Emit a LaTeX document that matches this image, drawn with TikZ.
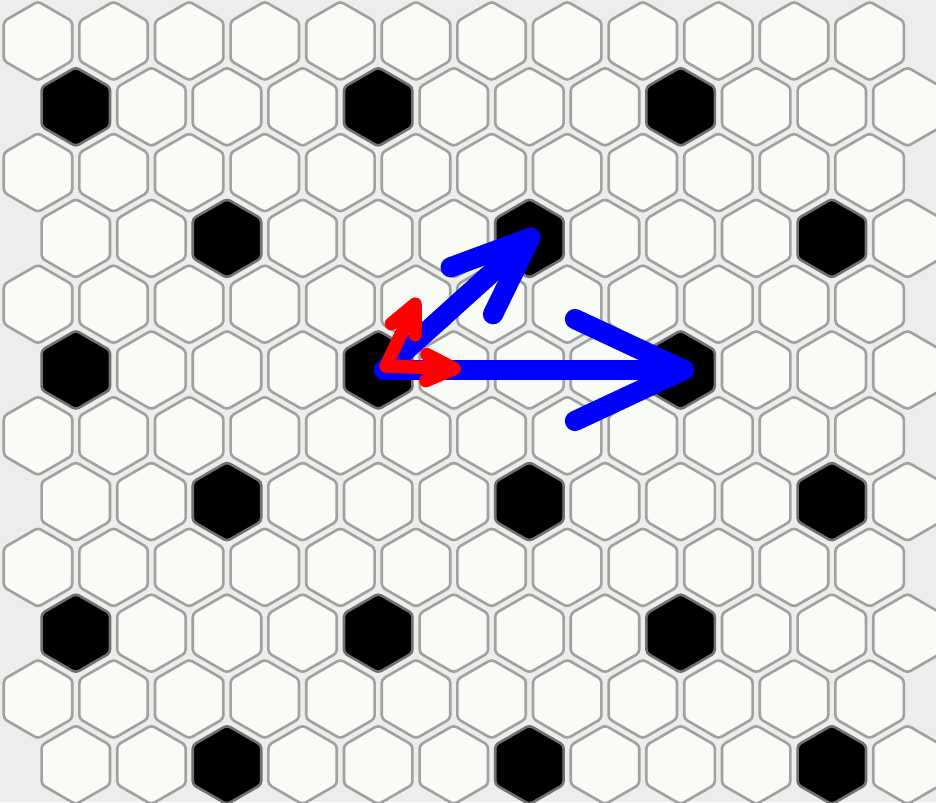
\documentclass[tikz,border=0pt]{standalone}
\usetikzlibrary{arrows.meta}
\definecolor{grout}{HTML}{ECEEEE}
\definecolor{tile}{HTML}{F9FBF6}
\definecolor{edge}{HTML}{A0A2A0}
\definecolor{vecblue}{HTML}{0000FF}
\definecolor{vecred}{HTML}{FF0000}
\tikzset{
  whitetile/.style={fill=tile, draw=edge, line width=1.5pt, rounded corners=2pt},
  blacktile/.style={fill=black, draw=edge!70!black, line width=1.5pt, rounded corners=2pt},
  bigvec/.style={draw=vecblue, line width=11.5pt, line cap=round},
  smallvec/.style={draw=vecred, line width=7.5pt, line cap=round}
}
% one pointy-top tile: style, x, y
\newcommand{\hextile}[3]{%
  \path[#1] (#2,#3) +(30:39.5) -- +(90:39.5) -- +(150:39.5) -- +(210:39.5) -- +(270:39.5) -- +(330:39.5) -- cycle;}

\begin{document}
\begin{tikzpicture}[x=0.02cm, y=-0.02cm]
  \fill[grout] (0,0) rectangle (936,802);
  \useasboundingbox (0,0) rectangle (936,802);
  % tiles
  \begin{scope}
    \clip (0,0) rectangle (936,802);
    \foreach \r in {0,...,11} {
      \pgfmathsetmacro{\ty}{41+65.8*\r}
      \pgfmathsetmacro{\off}{mod(\r,2)*37.8}
      \foreach \k in {0,...,11} {
        \pgfmathsetmacro{\tx}{38+\off+75.6*\k}
        \pgfmathtruncatemacro{\isblack}{and(mod(\r,2)==1, mod(\k-\r+17,4)==0)}
        \ifnum\isblack=1
          \hextile{blacktile}{\tx}{\ty}
        \else
          \hextile{whitetile}{\tx}{\ty}
        \fi
      }
    }
  \end{scope}
  % vectors
  \coordinate (origin) at (384,370);
  \coordinate (redorigin) at (386,366);
  \coordinate (bigA) at (694,370);
  \coordinate (bigB) at (538,231);
  \coordinate (smallA) at (461,369);
  \coordinate (smallB) at (418,298);
  \draw[bigvec, -{Straight Barb[length=62pt, width=58pt, round]}] (origin) -- (bigA);
  \draw[bigvec, -{Straight Barb[length=45pt, width=36pt, round]}] (origin) -- (bigB);
  \draw[smallvec, -{Straight Barb[length=16pt, width=15pt, round]}] (redorigin) -- (smallA);
  \draw[smallvec, -{Straight Barb[length=16pt, width=15pt, round]}] (redorigin) -- (smallB);
\end{tikzpicture}
\end{document}
